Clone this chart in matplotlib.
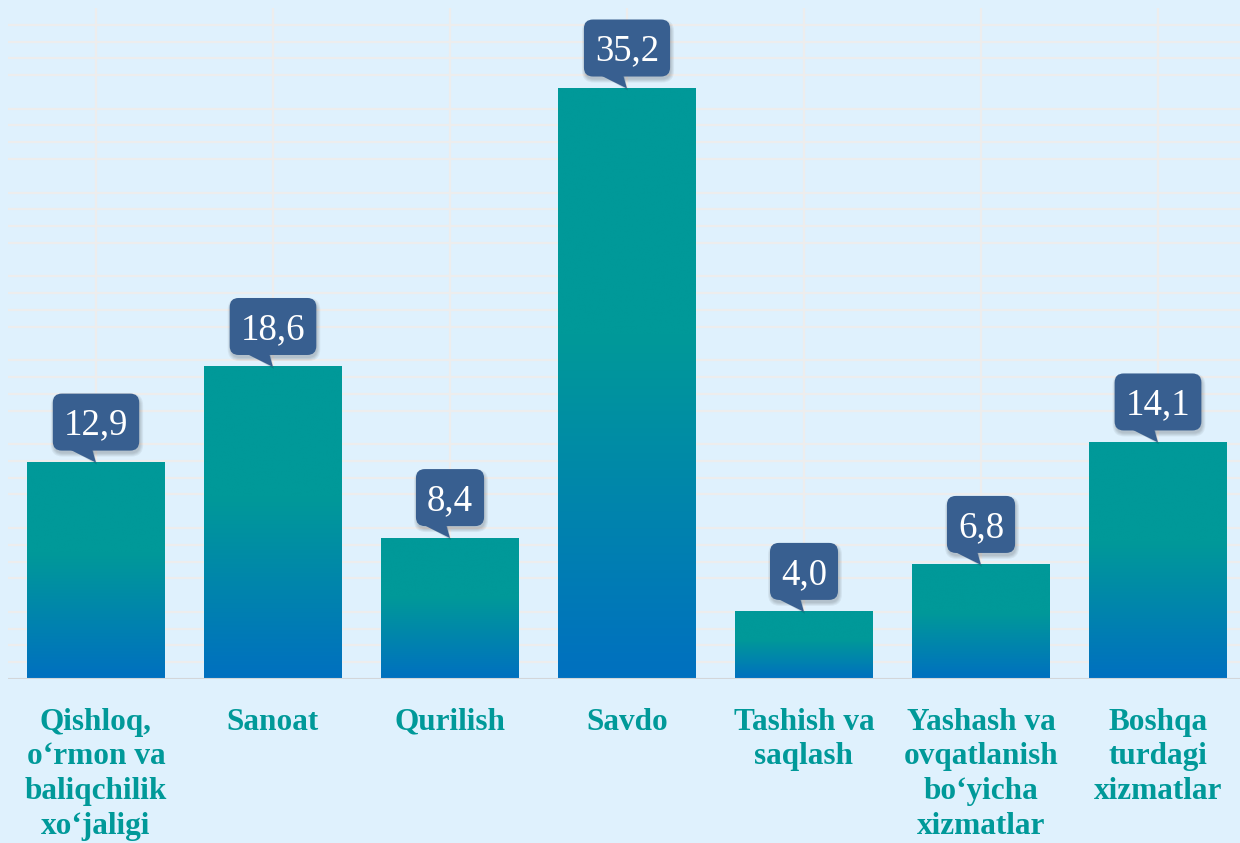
import numpy as np
import matplotlib.pyplot as plt
from matplotlib.colors import LinearSegmentedColormap
from matplotlib.patches import FancyBboxPatch, Polygon
from matplotlib.transforms import IdentityTransform

# data
categories = ['Qishloq,\no\u2018rmon va\nbaliqchilik\nxo\u2018jaligi',
              'Sanoat',
              'Qurilish',
              'Savdo',
              'Tashish va\nsaqlash',
              'Yashash va\novqatlanish\nbo\u2018yicha\nxizmatlar',
              'Boshqa\nturdagi\nxizmatlar']
values = [12.9, 18.6, 8.4, 35.2, 4.0, 6.8, 14.1]
value_labels = ['12,9', '18,6', '8,4', '35,2', '4,0', '6,8', '14,1']

bg = '#DFF1FD'
teal = '#009999'
blue = '#0070C0'
box_col = '#385F90'
serif = 'Liberation Serif'

fig = plt.figure(figsize=(12.4, 8.43), dpi=100, facecolor=bg)
ax = fig.add_axes([7.5 / 1240, 164 / 843, 1239 / 1240, 671 / 843])
ax.set_facecolor(bg)

x = np.arange(len(values))
n = len(values)

# grid (minor lines only, the 5-step ones are not visible in the original)
minor = [v for v in range(1, 40) if v % 5]
ax.hlines(minor, -0.5, n - 0.5, color='#EDEDED', lw=1.6, zorder=0)
ax.vlines(x, 0, 40, color='#EDEDED', lw=1.6, zorder=0)

bars = ax.bar(x, values, width=0.775, color='none', zorder=2)

cmap = LinearSegmentedColormap.from_list('g', [(0, blue), (0.58, teal), (1, teal)])
grad = np.linspace(0, 1, 256).reshape(-1, 1)
for b in bars:
    x0, y0, w, h = b.get_x(), b.get_y(), b.get_width(), b.get_height()
    ax.imshow(grad, cmap=cmap, extent=[x0, x0 + w, y0, y0 + h], origin='lower',
              aspect='auto', zorder=2, interpolation='bicubic')

ax.axhline(0, color='#D3D6D9', lw=1.5, zorder=3)

ax.set_xlim(-0.5, n - 0.5)
ax.set_ylim(0, 40)
ax.set_aspect('auto')
for s in ax.spines.values():
    s.set_visible(False)
ax.set_xticks([])
ax.set_yticks([])

# category labels
for xi, lab in zip(x, categories):
    ax.text(xi, -1.7, lab, ha='center', va='top', fontsize=22.5, fontweight='bold',
            family=serif, color=teal, linespacing=1.26, clip_on=False)

# callouts
fig.canvas.draw()
r = fig.canvas.get_renderer()
it = IdentityTransform()
for xi, v, lab in zip(x, values, value_labels):
    tx, ty = ax.transData.transform((xi, v))
    bh = 57
    by = ty + 12
    cy = by + bh / 2
    t = ax.text(tx, cy - 12.5, lab, ha='center', va='baseline', fontsize=26.5,
                family=serif, color='white', transform=it, zorder=7, clip_on=False)
    tw = t.get_window_extent(renderer=r).width
    bw = tw + 22
    for k in range(4):
        sh = FancyBboxPatch((tx - bw / 2 + 1 - k, by - 3 - k), bw + 2 * k, bh + 2 * k,
                            boxstyle='round,pad=0,rounding_size=%g' % (9 + k),
                            fc='black', ec='none', alpha=0.05, transform=it,
                            zorder=5, clip_on=False)
        ax.add_patch(sh)
    tail_sh = Polygon([(tx - 27, by + 2), (tx - 3, by + 2), (tx + 1, ty - 2)],
                      closed=True, fc='black', ec='none', alpha=0.12,
                      transform=it, zorder=5, clip_on=False)
    ax.add_patch(tail_sh)
    box = FancyBboxPatch((tx - bw / 2, by), bw, bh,
                         boxstyle='round,pad=0,rounding_size=9',
                         fc=box_col, ec='none', transform=it, zorder=6, clip_on=False)
    ax.add_patch(box)
    tail = Polygon([(tx - 28, by + 2), (tx - 4, by + 2), (tx, ty)], closed=True,
                   fc=box_col, ec='none', transform=it, zorder=6, clip_on=False)
    ax.add_patch(tail)

fig.savefig('out.png', dpi=100, facecolor=bg)
